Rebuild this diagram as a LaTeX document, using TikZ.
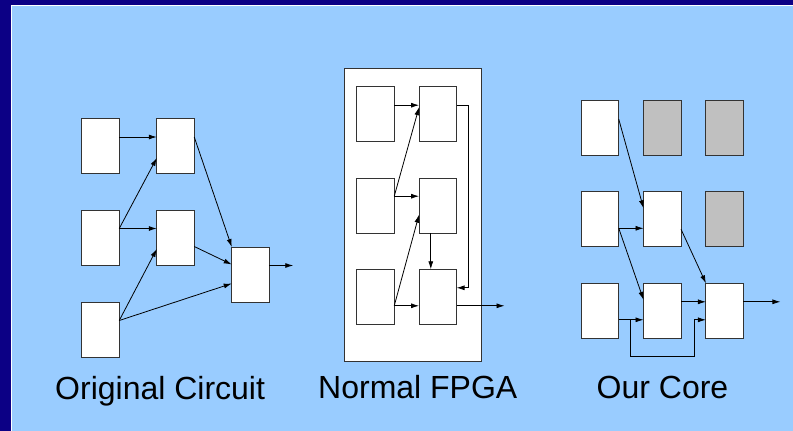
\documentclass[tikz,border=0pt]{standalone}
\usepackage{fontspec}
\setmainfont{Liberation Sans}
\usetikzlibrary{arrows.meta}
\definecolor{frameblue}{HTML}{0C0085}
\definecolor{panelblue}{HTML}{99CCFF}
\definecolor{boxline}{HTML}{333333}
\definecolor{boxgray}{HTML}{C0C0C0}
\tikzset{
  cell/.style={draw=boxline, line width=1pt, fill=white, minimum width=37.5pt, minimum height=55pt, inner sep=0pt, outer sep=0pt},
  grcell/.style={cell, fill=boxgray},
  wire/.style={draw=black, line width=0.8pt, -{Latex[length=8pt,width=5pt]}},
  plainwire/.style={draw=black, line width=0.8pt},
  caption/.style={anchor=base west, inner sep=0pt, font=\fontsize{32}{38}\selectfont}
}
\begin{document}
\begin{tikzpicture}[x=1pt,y=-1pt]
\useasboundingbox (0,0) rectangle (793,431);
\fill[frameblue] (0,0) rectangle (793,431);
\fill[panelblue] (11,5) rectangle (793,431);
\draw[white, line width=1pt] (11.5,431) -- (11.5,5.5) -- (793,5.5);

% ---------- Original Circuit ----------
\node[cell] (a1) at (100.5,146) {};
\node[cell] (a2) at (100.5,237.5) {};
\node[cell] (a3) at (100.5,329.5) {};
\node[cell] (b1) at (175.5,146) {};
\node[cell] (b2) at (175.5,237.5) {};
\node[cell] (c1) at (250.5,274.5) {};
\coordinate (cout) at ([yshift=9pt,xshift=24pt]c1.east);
\draw[wire] ([yshift=9pt]a1.east) -- ([yshift=9pt]b1.west);
\draw[wire] ([yshift=9pt]a2.east) -- ([yshift=-12pt]b1.west);
\draw[wire] ([yshift=9pt]a2.east) -- ([yshift=9pt]b2.west);
\draw[wire] ([yshift=9pt]a3.east) -- ([yshift=-11.5pt]b2.west);
\draw[wire] ([yshift=9pt]a3.east) -- ([yshift=-9pt]c1.west);
\draw[wire] ([yshift=9pt]b1.east) -- (c1.north west);
\draw[wire] ([yshift=-9pt]b2.east) -- ([yshift=10pt]c1.west);
\draw[wire] ([yshift=9pt]c1.east) -- (cout);
\node[caption] (t1) at (55,399) {Original Circuit};

% ---------- Normal FPGA ----------
\node[draw=boxline, line width=1pt, fill=white, minimum width=137.7pt, minimum height=293.4pt, inner sep=0pt] (fpga) at (412.85,215) {};
\node[cell] (f11) at (375.5,114.2) {};
\node[cell] (f21) at (375.5,205.7) {};
\node[cell] (f31) at (375.5,296.8) {};
\node[cell] (f12) at (437.8,114.2) {};
\node[cell] (f22) at (437.8,205.7) {};
\node[cell] (f32) at (437.8,296.8) {};
\coordinate (fout) at ([yshift=-9pt,xshift=48pt]f32.east);
\draw[wire] ([yshift=9pt]f11.east) -- ([yshift=9pt]f12.west);
\draw[wire] ([yshift=9.5pt]f21.east) -- ([yshift=7pt]f12.west);
\draw[wire] ([yshift=9.5pt]f21.east) -- ([yshift=9.5pt]f22.west);
\draw[wire] ([yshift=-9pt]f31.east) -- ([yshift=-9pt]f22.west);
\draw[wire] ([yshift=-9pt]f31.east) -- ([yshift=-9pt]f32.west);
\draw[wire] ([xshift=-7pt]f22.south) -- ([xshift=-7pt]f32.north);
\draw[wire] ([yshift=9pt]f12.east) -- ++(12,0) |- ([yshift=9pt]f32.east);
\draw[wire] ([yshift=-9pt]f32.east) -- (fout);
\node[caption] (t2) at (318,398) {Normal FPGA};

% ---------- Our Core ----------
\node[cell] (o11) at (600,128.2) {};
\node[grcell] (o12) at (662.3,128.2) {};
\node[grcell] (o13) at (724.7,128.2) {};
\node[cell] (o21) at (600,219.3) {};
\node[cell] (o22) at (662.3,219.3) {};
\node[grcell] (o23) at (724.7,219.3) {};
\node[cell] (o31) at (600,310.8) {};
\node[cell] (o32) at (662.3,310.8) {};
\node[cell] (o33) at (724.7,310.8) {};
\coordinate (oout) at ([yshift=9pt,xshift=37pt]o33.east);
\coordinate (obr) at ([yshift=-9pt,xshift=12pt]o31.east);
\draw[wire] ([yshift=9pt]o11.east) -- ([yshift=11pt]o22.west);
\draw[wire] ([yshift=-9pt]o21.east) -- ([yshift=-9pt]o22.west);
\draw[wire] ([yshift=-9pt]o21.east) -- ([yshift=11pt]o32.west);
\draw[wire] ([yshift=-10pt]o22.east) -- (o33.north west);
\draw[wire] ([yshift=9pt]o32.east) -- ([yshift=9pt]o33.west);
\draw[wire] ([yshift=-9pt]o31.east) -- ([yshift=-9pt]o32.west);
\draw[wire] (obr) -- ++(0,37) -| ([xshift=-12pt,yshift=-9pt]o33.west) -- ([yshift=-9pt]o33.west);
\draw[wire] ([yshift=9pt]o33.east) -- (oout);
\node[caption] (t3) at (596.5,398) {Our Core};
\end{tikzpicture}
\end{document}
